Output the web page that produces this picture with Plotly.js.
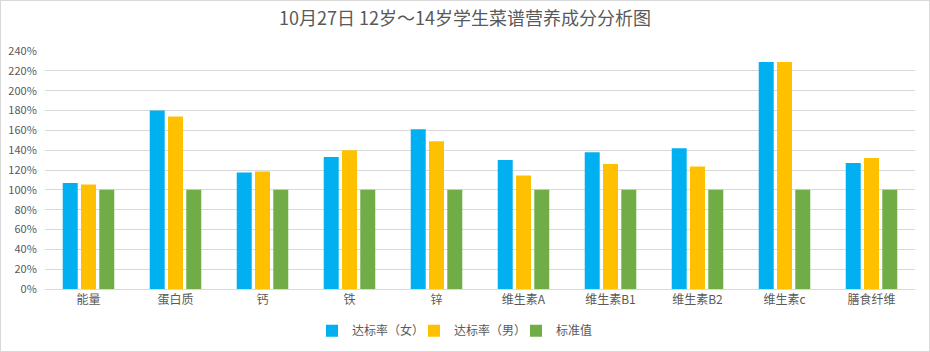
<!DOCTYPE html>
<html><head><meta charset="utf-8">
<script src="https://cdn.plot.ly/plotly-3.0.1.min.js"></script>
<style>html,body{margin:0;padding:0;background:#fff}#c{width:928px;height:350px;border:1px solid #d9d9d9}</style>
</head><body><div id="c"></div>
<script>
const categories = ['能量','蛋白质','钙','铁','锌','维生素A','维生素B1','维生素B2','维生素c','膳食纤维'];
const femaleRate = [1.07,1.80,1.175,1.33,1.61,1.30,1.38,1.42,2.29,1.27];
const maleRate   = [1.055,1.74,1.185,1.40,1.49,1.145,1.26,1.235,2.29,1.32];
const standard   = [1,1,1,1,1,1,1,1,1,1];
const seriesNames = ['达标率（女）','达标率（男）','标准值'];
const colors = ['#00B0F0','#FFC000','#70AD47'];
const font = '"Noto Sans CJK SC", "Liberation Sans", sans-serif';
const data = [femaleRate, maleRate, standard].map((v,i)=>({
  type:'bar', x:categories, y:v, name:seriesNames[i], marker:{color:colors[i]}, hoverinfo:'y'
}));
const layout = {
  width:928, height:350,
  margin:{l:44,r:14,t:50,b:62},
  paper_bgcolor:'#fff', plot_bgcolor:'#fff',
  font:{family:font, color:'#595959', size:11},
  title:{text:'10月27日 12岁～14岁学生菜谱营养成分分析图', x:0.5, xanchor:'center', y:0.95, yanchor:'middle', font:{size:18, color:'#595959', family:font}},
  bargap:0.37, bargroupgap:0.18,
  xaxis:{type:'category', showgrid:false, showline:true, linecolor:'#d9d9d9', ticks:'', tickfont:{size:12,color:'#595959'}, automargin:false},
  yaxis:{range:[0,2.4], dtick:0.2, tickformat:'.0%', gridcolor:'#d9d9d9', showline:false, zeroline:false, ticks:'outside', ticklen:5, tickcolor:'#fff', tickfont:{size:11,color:'#595959'}, automargin:false},
  legend:{orientation:'h', x:0.5, xanchor:'center', xref:'container', yref:'container', y:0.058, yanchor:'middle', font:{size:12,color:'#595959'}, itemwidth:30, entrywidth:57, traceorder:'normal'},
  showlegend:true
};
Plotly.newPlot('c', data, layout, {displayModeBar:false, staticPlot:true});
</script></body></html>
